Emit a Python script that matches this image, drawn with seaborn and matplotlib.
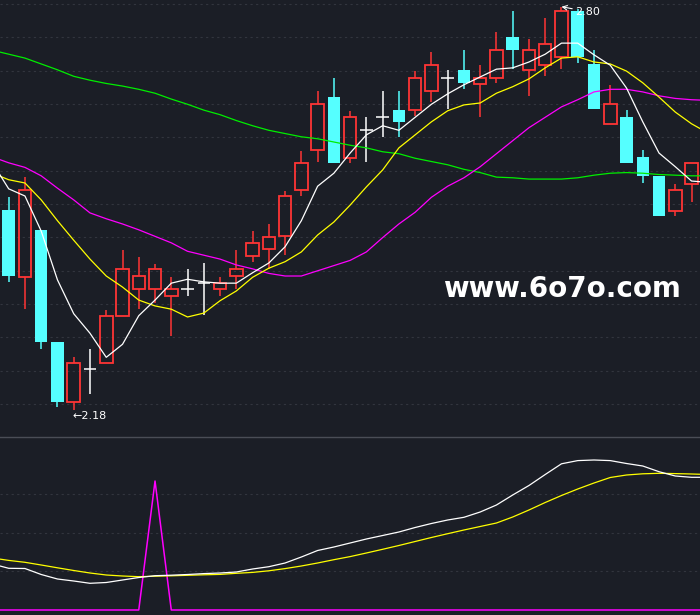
import numpy as np
import pandas as pd
import seaborn as sns
import matplotlib
matplotlib.use('Agg')
import matplotlib.pyplot as plt

# daily candles, oldest first
opens = [2.487, 2.385, 2.457, 2.284, 2.192, 2.243, 2.253, 2.324, 2.366, 2.366,
         2.355, 2.366, 2.375, 2.366, 2.386, 2.416, 2.427, 2.447, 2.518, 2.579,
         2.661, 2.568, 2.610, 2.630, 2.641, 2.641, 2.671, 2.691, 2.702, 2.681,
         2.691, 2.753, 2.702, 2.711, 2.722, 2.793, 2.712, 2.620, 2.630, 2.569,
         2.540, 2.486, 2.528]
closes = [2.386, 2.518, 2.285, 2.193, 2.253, 2.243, 2.324, 2.397, 2.386, 2.397,
          2.366, 2.366, 2.375, 2.375, 2.396, 2.436, 2.446, 2.509, 2.559, 2.651,
          2.560, 2.630, 2.610, 2.630, 2.622, 2.691, 2.711, 2.691, 2.682, 2.691,
          2.733, 2.734, 2.733, 2.743, 2.793, 2.722, 2.642, 2.651, 2.560, 2.540,
          2.479, 2.518, 2.559]
highs = [2.508, 2.538, 2.457, 2.284, 2.261, 2.274, 2.333, 2.426, 2.415, 2.405,
         2.384, 2.396, 2.406, 2.384, 2.426, 2.455, 2.466, 2.516, 2.578, 2.670,
         2.691, 2.639, 2.630, 2.671, 2.671, 2.701, 2.731, 2.702, 2.733, 2.710,
         2.761, 2.793, 2.751, 2.783, 2.800, 2.796, 2.733, 2.680, 2.641, 2.580,
         2.540, 2.527, 2.559]
lows = [2.377, 2.336, 2.274, 2.185, 2.180, 2.204, 2.253, 2.324, 2.336, 2.345,
        2.294, 2.356, 2.326, 2.356, 2.366, 2.407, 2.397, 2.418, 2.509, 2.561,
        2.560, 2.560, 2.561, 2.600, 2.600, 2.632, 2.653, 2.642, 2.673, 2.631,
        2.682, 2.704, 2.662, 2.693, 2.704, 2.713, 2.642, 2.620, 2.560, 2.529,
        2.479, 2.479, 2.499]

# moving averages, one extra point on each side (off screen)
ma5 = [2.560, 2.520, 2.509, 2.455, 2.380, 2.328, 2.298, 2.261, 2.281, 2.325,
       2.349, 2.375, 2.381, 2.377, 2.375, 2.375, 2.391, 2.406, 2.431, 2.471,
       2.524, 2.544, 2.575, 2.603, 2.617, 2.610, 2.630, 2.650, 2.666, 2.680,
       2.692, 2.704, 2.706, 2.715, 2.727, 2.744, 2.744, 2.726, 2.710, 2.675,
       2.623, 2.575, 2.554, 2.532, 2.530]
ma10 = [2.544, 2.534, 2.529, 2.503, 2.471, 2.441, 2.412, 2.386, 2.369, 2.349,
        2.340, 2.335, 2.323, 2.329, 2.348, 2.363, 2.384, 2.398, 2.408, 2.423,
        2.449, 2.469, 2.495, 2.523, 2.549, 2.583, 2.603, 2.623, 2.640, 2.649,
        2.652, 2.667, 2.677, 2.689, 2.706, 2.721, 2.723, 2.715, 2.712, 2.701,
        2.683, 2.661, 2.638, 2.620, 2.606]
ma20 = [2.569, 2.560, 2.553, 2.540, 2.521, 2.503, 2.483, 2.474, 2.466, 2.457,
        2.447, 2.437, 2.424, 2.418, 2.412, 2.403, 2.397, 2.390, 2.386, 2.386,
        2.394, 2.402, 2.410, 2.423, 2.445, 2.466, 2.484, 2.507, 2.524, 2.537,
        2.554, 2.574, 2.594, 2.614, 2.630, 2.646, 2.657, 2.669, 2.673, 2.673,
        2.669, 2.663, 2.659, 2.657, 2.656]
ma60 = [2.733, 2.727, 2.721, 2.712, 2.703, 2.693, 2.687, 2.682, 2.678, 2.673,
        2.667, 2.658, 2.650, 2.641, 2.634, 2.625, 2.617, 2.610, 2.605, 2.600,
        2.597, 2.592, 2.587, 2.583, 2.577, 2.574, 2.567, 2.562, 2.557, 2.550,
        2.545, 2.538, 2.537, 2.535, 2.535, 2.535, 2.537, 2.541, 2.544, 2.545,
        2.544, 2.542, 2.541, 2.540, 2.540]

# lower indicator panel
ind_fast = [46, 41.7, 41.5, 35.5, 31, 29, 26.7, 27.5, 30, 32.5,
            34.3, 34.8, 35.5, 36.4, 37, 38, 41, 43.3, 47, 53,
            59.5, 63, 67, 71, 74.5, 78, 82.5, 86.5, 90, 92.7,
            98, 105, 115, 124.5, 135.5, 146.2, 149.4, 150, 149.4, 146.5,
            144, 138.3, 134, 132.7, 132.7]
ind_slow = [52, 49.6, 47.7, 45, 42.2, 39.5, 37, 35, 34, 33.3,
            33.8, 34.2, 34.7, 35.2, 35.6, 36.7, 37.6, 39.2, 41.4, 44,
            47, 50.3, 53.4, 57, 60.7, 64.5, 68.5, 72.5, 76.3, 80,
            83.5, 87, 93, 100, 107.5, 114.5, 121, 127, 132.5, 135,
            136.2, 136.7, 136.4, 136, 135.5]
ind_signal = [0, 0, 0, 0, 0, 0, 0, 0, 0, 0,
              129, 0, 0, 0, 0, 0, 0, 0, 0, 0,
              0, 0, 0, 0, 0, 0, 0, 0, 0, 0,
              0, 0, 0, 0, 0, 0, 0, 0, 0, 0,
              0, 0, 0, 0, 0]

bg = '#1b1e26'
red = '#ff3535'
cyan = '#55ffff'
grid_col = '#32353e'

sns.set_style('dark', {'axes.facecolor': bg, 'figure.facecolor': bg})

o = np.array(opens)
c = np.array(closes)
h = np.array(highs)
l = np.array(lows)
n = len(o)
idx = np.arange(n)
ma_idx = np.arange(-1, n + 1)

fig = plt.figure(figsize=(7, 6.15), dpi=100)
ax = fig.add_axes([0, 178 / 615, 1, 437 / 615])
ax2 = fig.add_axes([0, 0, 1, 178 / 615])

up = c > o
down = c < o
flat = c == o
w = 0.77

# candles
ax.vlines(idx[up], c[up], h[up], color=red, lw=1.1, zorder=3)
ax.vlines(idx[up], l[up], o[up], color=red, lw=1.1, zorder=3)
ax.bar(idx[up], (c - o)[up], bottom=o[up], width=w, facecolor='none',
       edgecolor=red, linewidth=1.3, zorder=3)
ax.vlines(idx[down], l[down], h[down], color=cyan, lw=1.1, zorder=2)
ax.bar(idx[down], (o - c)[down], bottom=c[down], width=w, color=cyan,
       linewidth=0, zorder=3)
ax.vlines(idx[flat], l[flat], h[flat], color='white', lw=1.1, zorder=3)
ax.hlines(c[flat], idx[flat] - w / 2, idx[flat] + w / 2, color='white', lw=1.1, zorder=3)

ma = pd.DataFrame({'idx': ma_idx, 'ma5': ma5, 'ma10': ma10, 'ma20': ma20, 'ma60': ma60})
for col, color in [('ma60', '#00ee00'), ('ma20', '#ff00ff'), ('ma10', '#ffff00'), ('ma5', 'white')]:
    sns.lineplot(data=ma, x='idx', y=col, color=color, lw=0.9, estimator=None, ax=ax, zorder=4)

# high / low marks
hi = int(np.argmax(h))
lo = int(np.argmin(l))
ax.annotate(f'{h[hi]:.2f}', xy=(hi, h[hi]), xytext=(14, -5), textcoords='offset pixels',
            ha='left', va='center', color='white', fontsize=8,
            arrowprops=dict(arrowstyle='->', color='white', lw=0.8, shrinkA=0, shrinkB=0))
ax.annotate(f'\u2190{l[lo]:.2f}', xy=(lo, l[lo]), xytext=(-1, -6), textcoords='offset pixels',
            ha='left', va='center', color='white', fontsize=8)

ind = pd.DataFrame({'idx': ma_idx, 'fast': ind_fast, 'slow': ind_slow, 'signal': ind_signal})
sns.lineplot(data=ind, x='idx', y='signal', color='#ff00ff', lw=1.1, estimator=None, ax=ax2)
sns.lineplot(data=ind, x='idx', y='slow', color='#ffff00', lw=0.9, estimator=None, ax=ax2)
sns.lineplot(data=ind, x='idx', y='fast', color='white', lw=0.9, estimator=None, ax=ax2)

for a in (ax, ax2):
    a.set_xlim(-0.535, 42.52)
    a.set(xlabel='', ylabel='')
    a.tick_params(left=False, bottom=False, labelleft=False, labelbottom=False)
    for s in a.spines.values():
        s.set_visible(False)
    a.set_axisbelow(True)
    a.yaxis.grid(True, color=grid_col, linestyle=(0, (2, 3)), lw=0.8)
    a.xaxis.grid(False)

ax.set_ylim(2.1385, 2.8103)
ax.set_yticks(np.linspace(2.8042, 2.1892, 13))
ax2.set_ylim(-5, 173)
ax2.set_yticks([39, 77, 116])
ax2.spines['top'].set_visible(True)
ax2.spines['top'].set_color('#4a4d56')
ax2.spines['top'].set_linewidth(1.0)

fig.text(561.5 / 700, 1 - 297 / 615, 'www.6o7o.com', color='white', fontsize=20,
         fontweight='bold', ha='center', va='baseline')

fig.savefig('out.png', dpi=100, facecolor=bg)
